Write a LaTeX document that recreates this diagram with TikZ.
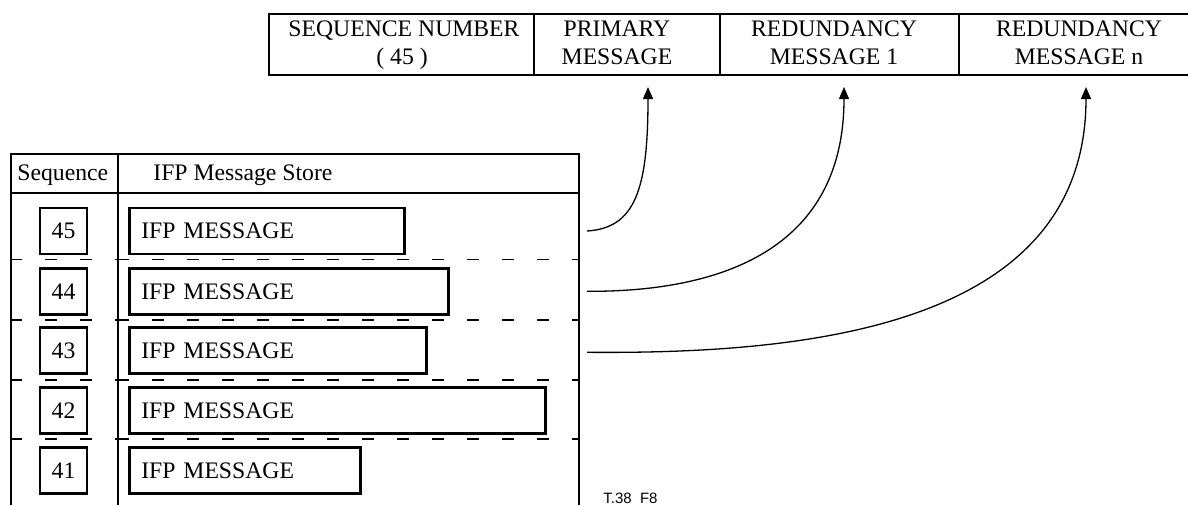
\documentclass[tikz,border=0pt]{standalone}
\usepackage{fontspec}
\setmainfont{Liberation Serif}
\newfontfamily\labelsans{Liberation Sans}
\usetikzlibrary{arrows.meta}
\begin{document}
\begin{tikzpicture}[x=0.5pt,y=-0.5pt,
  font=\fontsize{11.85}{14}\selectfont,
  frame/.style={line width=1.3pt},
  sep/.style={line width=0.75pt, dash pattern=on 6pt off 11.5pt, dash phase=0.5pt},
  seqbox/.style={draw, line width=1.3pt, minimum width=23.5pt, minimum height=23pt, inner sep=0pt},
  ifpbox/.style={draw, line width=1.3pt, minimum height=23pt, inner ysep=0pt, inner xsep=6pt, text width=#1, align=left, anchor=west},
  txt/.style={inner sep=0pt, anchor=base},
  link/.style={line width=0.65pt, -{Triangle[length=6pt,width=5pt]}}]

\useasboundingbox (0,0) rectangle (1188,505);

% top record
\draw[frame] (1188,14) -- (269,14) -- (269,75) -- (1188,75);
\draw[frame] (534,14) -- (534,75) (720,14) -- (720,75) (959,14) -- (959,75);
\node[txt] (sn1) at (404,36.5) {SEQUENCE NUMBER};
\node[txt] (sn2) at (402,64.5) {( 45 )};
\node[txt] (pm1) at (617,36.5) {PRIMARY};
\node[txt] (pm2) at (617,64.5) {MESSAGE};
\node[txt] (ra1) at (834,36.5) {REDUNDANCY};
\node[txt] (ra2) at (834,64.5) {MESSAGE 1};
\node[txt] (rn1) at (1079,36.5) {REDUNDANCY};
\node[txt] (rn2) at (1079,64.5) {MESSAGE n};

% store table
\draw[frame] (11,505) -- (11,154) -- (579,154) -- (579,505);
\draw[frame] (11,193) -- (579,193);
\draw[frame] (118,154) -- (118,505);
\foreach \yy in {259.5,320,380,439} {
  \draw[sep] (11,\yy) -- (118,\yy);
  \draw[sep] (118,\yy) -- (579,\yy);
}
\node[txt, anchor=base west] (hseq) at (17,180) {Sequence};
\node[txt, anchor=base west] (hstore) at (153,180) {IFP Message Store};

\foreach \n/\yy/\w in {45/231/125.5pt, 44/291.3/147.5pt, 43/350.3/136.5pt, 42/410.5/196pt, 41/470.5/103.5pt} {
  \node[seqbox] (s\n) at (63.5,\yy) {\n};
  \node[ifpbox=\w] (m\n) at (128,\yy) {IFP MESSAGE};
}

% connectors
\coordinate (c45) at (587,231);
\coordinate (c44) at (587,291.3);
\coordinate (c43) at (587,352.3);
\coordinate (tp) at (648,87);
\coordinate (tr1) at (844,87);
\coordinate (trn) at (1086,87);
\draw[link] (c45) .. controls (635,228) and (648,190) .. (tp);
\draw[link] (c44) .. controls (720,292) and (844,250) .. (tr1);
\draw[link] (c43) .. controls (800,354) and (1086,330) .. (trn);

\node[txt, anchor=base west, font=\labelsans\fontsize{7.5}{9}\selectfont] (fig) at (603,503) {T.38\ \ F8};
\end{tikzpicture}
\end{document}
